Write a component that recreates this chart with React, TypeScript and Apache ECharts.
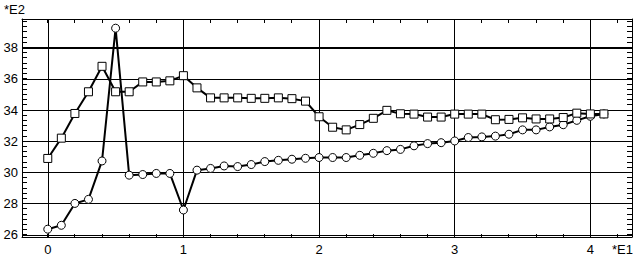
import React, { useEffect, useRef } from "react";
import * as echarts from "echarts";

// x positions (units of 10, axis label "*E1")
const xValues = [
  0.0, 0.1, 0.2, 0.3, 0.4, 0.5, 0.6, 0.7, 0.8, 0.9,
  1.0, 1.1, 1.2, 1.3, 1.4, 1.5, 1.6, 1.7, 1.8, 1.9,
  2.0, 2.1, 2.2, 2.3, 2.4, 2.5, 2.6, 2.7, 2.8, 2.9,
  3.0, 3.1, 3.2, 3.3, 3.4, 3.5, 3.6, 3.7, 3.8, 3.9,
  4.0, 4.1,
];

// square-marker series (units of 100, axis label "*E2")
const squareValues = [
  30.9, 32.2, 33.78, 35.17, 36.8, 35.17, 35.17, 35.8, 35.8, 35.87,
  36.2, 35.42, 34.78, 34.78, 34.78, 34.75, 34.75, 34.78, 34.73, 34.57,
  33.57, 32.9, 32.73, 33.07, 33.47, 33.98, 33.76, 33.74, 33.55, 33.55,
  33.74, 33.74, 33.74, 33.38, 33.4, 33.5, 33.43, 33.43, 33.52, 33.8,
  33.75, 33.75,
];

// circle-marker series
const circleValues = [
  26.37, 26.62, 28.02, 28.28, 30.74, 39.24, 29.83, 29.87, 29.94, 29.94,
  27.6, 30.15, 30.26, 30.42, 30.38, 30.51, 30.7, 30.78, 30.85, 30.91,
  30.96, 30.96, 30.96, 31.1, 31.23, 31.4, 31.48, 31.71, 31.85, 31.91,
  32.02, 32.24, 32.28, 32.33, 32.45, 32.73, 32.73, 32.92, 33.06, 33.34,
  33.6, 33.75,
];

const xTickLabels = [0, 1, 2, 3, 4];
const yTickLabels = [26, 28, 30, 32, 34, 36, 38];
const referenceLevel = 38;
const xUnitLabel = "*E1";
const yUnitLabel = "*E2";

const X_MIN = -0.19;
const X_MAX = 4.307;
const Y_MIN = 25.87;
const Y_MAX = 39.83;

// minor tick positions (every 0.2 on x, every 1/3 on y)
const xMinorTicks: number[] = [];
for (let k = 0; k <= 21; k++) xMinorTicks.push(Math.round(k * 2) / 10);
const yMinorTicks: number[] = [];
for (let k = 0; k <= 41; k++) yMinorTicks.push(26 + k / 3);

const FONT = '"Liberation Sans", Arial, sans-serif';
const BLACK = "#000";

function crisp(v: number) {
  return Math.round(v - 0.5) + 0.5;
}

export default function App() {
  const ref = useRef<HTMLDivElement>(null);

  useEffect(() => {
    document.body.style.margin = "0";
    if (!ref.current) return;
    const chart = echarts.init(ref.current, null, { renderer: "svg" });
    const line = { color: BLACK, width: 1 };

    const baseX = { type: "value", min: X_MIN, max: X_MAX };
    const baseY = { type: "value", min: Y_MIN, max: Y_MAX };

    chart.setOption({
      animation: false,
      backgroundColor: "#fff",
      grid: { left: 22, right: 8, top: 19, bottom: 21 },
      xAxis: [
        {
          ...baseX,
          position: "bottom",
          axisLine: { show: true, onZero: false, lineStyle: line },
          axisTick: { show: false },
          axisLabel: {
            show: true,
            customValues: xTickLabels,
            margin: 6,
            color: BLACK,
            fontFamily: FONT,
            fontSize: 13,
          },
          splitLine: { show: false },
        },
        {
          ...baseX,
          position: "top",
          axisLine: { show: true, onZero: false, lineStyle: line },
          axisTick: { show: false },
          axisLabel: { show: false },
          splitLine: { show: false },
        },
        {
          ...baseX,
          position: "bottom",
          splitNumber: 5,
          axisLine: { show: false },
          axisTick: { show: false, customValues: xTickLabels },
          axisLabel: { show: false },
          splitLine: { show: true, lineStyle: line },
        },
      ],
      yAxis: [
        {
          ...baseY,
          position: "left",
          axisLine: { show: true, onZero: false, lineStyle: line },
          axisTick: { show: false },
          axisLabel: {
            show: true,
            customValues: yTickLabels,
            margin: 4,
            color: BLACK,
            fontFamily: FONT,
            fontSize: 13,
          },
          splitLine: { show: false },
        },
        {
          ...baseY,
          position: "right",
          axisLine: { show: true, onZero: false, lineStyle: line },
          axisTick: { show: false },
          axisLabel: { show: false },
          splitLine: { show: false },
        },
        {
          ...baseY,
          position: "left",
          splitNumber: 7,
          axisLine: { show: false },
          axisTick: { show: false, customValues: yTickLabels },
          axisLabel: { show: false },
          splitLine: { show: true, lineStyle: line },
        },
      ],
      series: [
        {
          type: "line",
          xAxisIndex: 0,
          yAxisIndex: 0,
          data: xValues.map((x, i) => [x, circleValues[i]]),
          symbol: "circle",
          symbolSize: 8,
          showAllSymbol: true,
          lineStyle: { color: BLACK, width: 2 },
          itemStyle: { color: "#fff", borderColor: BLACK, borderWidth: 1 },
          emphasis: { disabled: true },
        },
        {
          type: "line",
          xAxisIndex: 0,
          yAxisIndex: 0,
          data: xValues.map((x, i) => [x, squareValues[i]]),
          symbol: "rect",
          symbolSize: 8,
          showAllSymbol: true,
          lineStyle: { color: BLACK, width: 2 },
          itemStyle: { color: "#fff", borderColor: BLACK, borderWidth: 1 },
          emphasis: { disabled: true },
          markLine: {
            silent: true,
            symbol: ["none", "none"],
            label: { show: false },
            lineStyle: { color: BLACK, width: 2, type: "solid" },
            data: [{ yAxis: referenceLevel }],
          },
        },
      ],
    });

    // minor ticks placed through the axes' own scales
    const left = Number(chart.convertToPixel({ xAxisIndex: 0 }, X_MIN));
    const right = Number(chart.convertToPixel({ xAxisIndex: 0 }, X_MAX));
    const bottom = Number(chart.convertToPixel({ yAxisIndex: 0 }, Y_MIN));
    const top = Number(chart.convertToPixel({ yAxisIndex: 0 }, Y_MAX));
    const tick = { stroke: BLACK, lineWidth: 1 };
    const graphics: any[] = [
      {
        type: "text",
        left: 4,
        top: 3,
        style: { text: yUnitLabel, font: `13px ${FONT}`, fill: BLACK },
      },
      {
        type: "text",
        left: 612,
        top: 243,
        style: { text: xUnitLabel, font: `13px ${FONT}`, fill: BLACK },
      },
    ];
    xMinorTicks.forEach((v) => {
      const x = crisp(Number(chart.convertToPixel({ xAxisIndex: 0 }, v)));
      graphics.push({ type: "line", shape: { x1: x, y1: bottom, x2: x, y2: bottom - 3 }, style: { ...tick } });
      graphics.push({ type: "line", shape: { x1: x, y1: top, x2: x, y2: top + 4 }, style: { ...tick } });
    });
    yMinorTicks.forEach((v) => {
      const y = crisp(Number(chart.convertToPixel({ yAxisIndex: 0 }, v)));
      graphics.push({ type: "line", shape: { x1: left, y1: y, x2: left + 5, y2: y }, style: { ...tick } });
      graphics.push({ type: "line", shape: { x1: right, y1: y, x2: right - 5, y2: y }, style: { ...tick } });
    });
    chart.setOption({ graphic: graphics });

    return () => chart.dispose();
  }, []);

  return (
    <div
      ref={ref}
      style={{ position: "fixed", left: 0, top: 0, width: 640, height: 258, background: "#fff" }}
    />
  );
}
